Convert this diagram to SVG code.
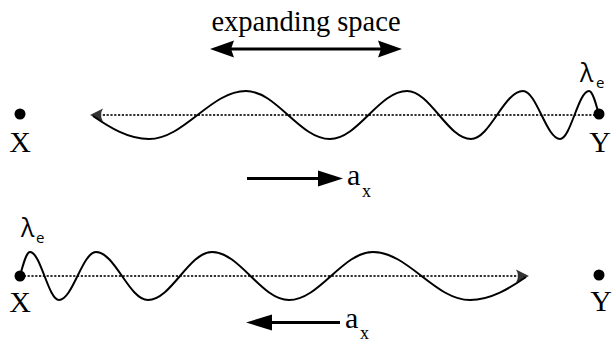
<svg xmlns="http://www.w3.org/2000/svg" xmlns:xlink="http://www.w3.org/1999/xlink" width="614" height="343" viewBox="0 0 614 343">
<style>
.serif{font-family:"Liberation Serif","Times New Roman",serif;fill:#000}
.sans{font-family:"Open Sans","DejaVu Sans",sans-serif;fill:#000}
.lbl{font-size:30px;text-anchor:middle}
.wave{fill:none;stroke:#000;stroke-width:2}
.dots{fill:none;stroke:#333;stroke-width:1.8;stroke-dasharray:2.2 1.6}
.thick{fill:none;stroke:#000;stroke-width:3}
</style>
<defs>
<g id="ray">
<path class="dots" d="M20 276 H519"/>
<path d="M529 276 L516 269.5 Q520 276 516 282.5 Z" fill="#333"/>
<path class="wave" d="M20 276 C23.3 263.5 26.4 252 30 252 C40.6 252 48.4 300 59 300 C72.5 300 82.5 252 96 252 C114.9 252 129.1 300 148 300 C171.3 300 188.7 252 212 252 C240 252 261 300 289 300 C319.6 300 342.4 252 373 252 C408.3 252 434.7 300 470 300 C491 300 510 288 526 277"/>
</g>
</defs>
<g id="title">
<text class="serif" x="306" y="31" font-size="28.5" text-anchor="middle">expanding space</text>
<path class="thick" d="M228 49 H384"/>
<path d="M210 49 L234 40.5 L231 49 L234 57.5 Z M402 49 L378 40.5 L381 49 L378 57.5 Z" fill="#000"/>
</g>
<g id="connectors">
<use xlink:href="#ray" transform="matrix(-1 0 0 1 619 -161)"/>
<use xlink:href="#ray"/>
</g>
<g id="top-X"><circle cx="20" cy="114" r="5.5"/><text class="serif lbl" x="20" y="152">X</text></g>
<g id="top-Y"><circle cx="599" cy="114" r="5.5"/><text class="serif lbl" x="600" y="152">Y</text></g>
<g id="bottom-X"><circle cx="20" cy="276" r="5.5"/><text class="serif lbl" x="20" y="312">X</text></g>
<g id="bottom-Y"><circle cx="599" cy="275" r="5.5"/><text class="serif lbl" x="601" y="311">Y</text></g>
<g id="lambda-top"><text class="sans" x="580" y="82" font-size="25">λ</text><text class="sans" x="596" y="88" font-size="15">e</text></g>
<g id="lambda-bottom"><text class="sans" x="21" y="237" font-size="25">λ</text><text class="sans" x="36" y="243" font-size="15">e</text></g>
<g id="ax-top">
<path class="thick" d="M247 178.5 H322"/>
<path d="M343 178.5 L318 170.5 L318 186.5 Z" fill="#000"/>
<text class="serif" x="347" y="185" font-size="30">a</text>
<text class="serif" x="362" y="197" font-size="18">x</text>
</g>
<g id="ax-bottom">
<path class="thick" d="M268 322.5 H340"/>
<path d="M246 322.5 L272 314.5 L272 330.5 Z" fill="#000"/>
<text class="serif" x="345" y="328" font-size="30">a</text>
<text class="serif" x="360" y="339" font-size="18">x</text>
</g>
</svg>
